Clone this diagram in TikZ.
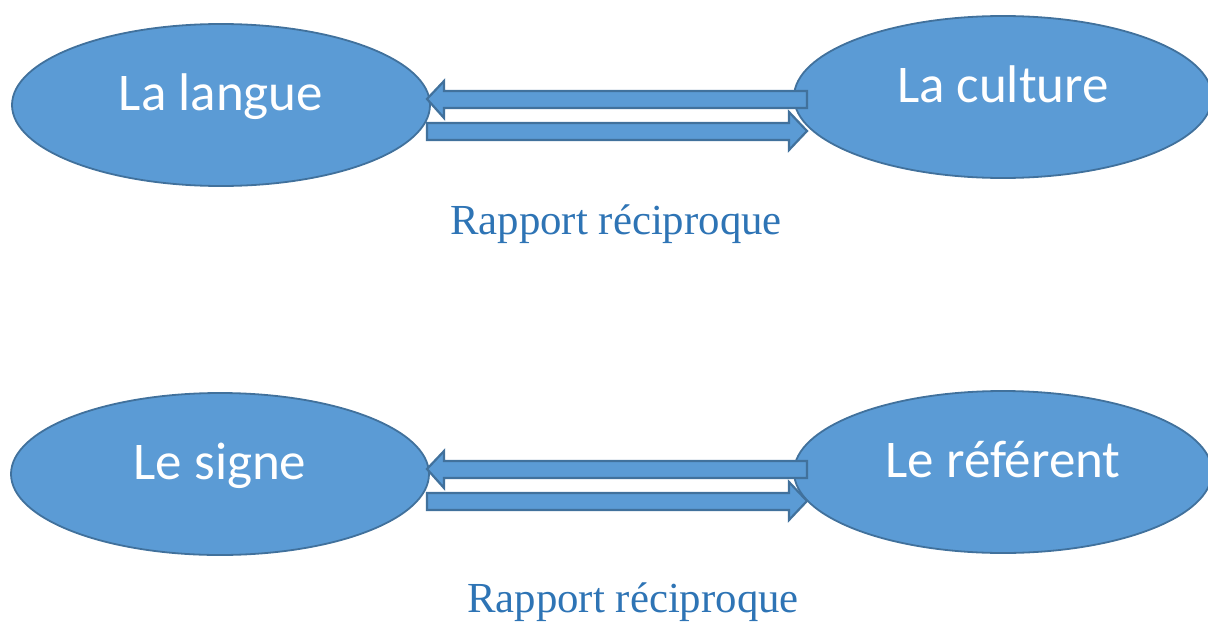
\documentclass[tikz,border=0pt]{standalone}
\usepackage{fontspec}
\setmainfont{Liberation Serif}
\newfontfamily\carlito{Carlito}
\usetikzlibrary{shapes.geometric}
\definecolor{bulle}{HTML}{5B9BD5}
\definecolor{bord}{HTML}{41719C}
\definecolor{rapportbleu}{HTML}{2E74B5}
\tikzset{
  bulle/.style={ellipse, draw=bord, line width=0.9pt, fill=bulle, text=white,
    minimum width=209pt, minimum height=81pt, inner sep=0pt,
    text height=18pt, text depth=12.5pt, font=\carlito\fontsize{26.5}{30}\selectfont},
  fleche/.style={draw=bord, fill=bulle, line width=1.1pt, line join=miter},
  rapport/.style={text=rapportbleu, inner sep=0pt, font=\fontsize{21.4}{25}\selectfont}
}

\begin{document}
\begin{tikzpicture}[x=0.5pt, y=-0.5pt]
  \useasboundingbox (0,0) rectangle (1208,621);
  % les bulles
  \node[bulle] (langue)   at (221,105) {La langue};
  \node[bulle] (culture)  at (1003,97) {La culture};
  \node[bulle] (signe)    at (220,474) {Le signe};
  \node[bulle] (referent) at (1003,472) {Le référent};
  % les fleches
  \foreach \y in {0,370}{
    \draw[fleche] (427,99+\y) -- ++(17,-18) -- ++(0,10) -- ++(363,0) -- ++(0,17)
      -- ++(-363,0) -- ++(0,10) -- cycle;
    \draw[fleche] (427,123+\y) -- ++(362,0) -- ++(0,-11) -- ++(18,19) -- ++(-18,19)
      -- ++(0,-10) -- ++(-362,0) -- cycle;
  }
  % les legendes
  \node[rapport] (rapport1) at (616,224) {Rapport réciproque};
  \node[rapport] (rapport2) at (633,602) {Rapport réciproque};
\end{tikzpicture}
\end{document}
